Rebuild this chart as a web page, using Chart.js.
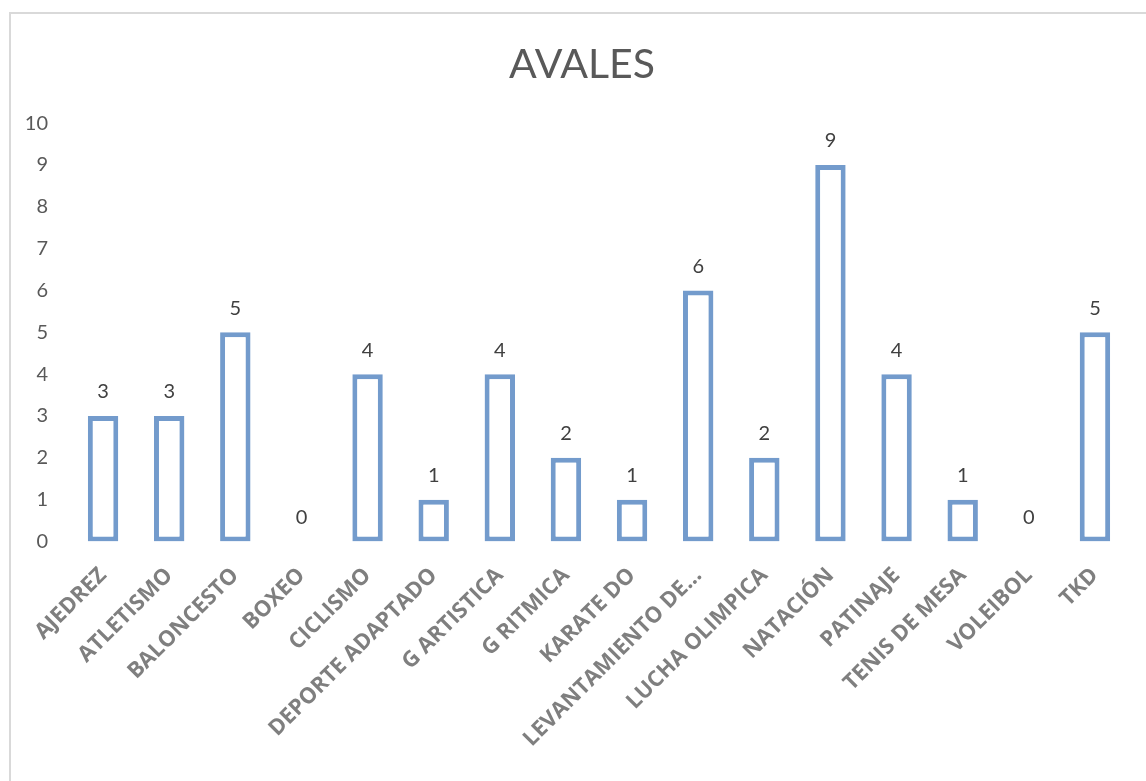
<!DOCTYPE html>
<html>
<head>
<meta charset="utf-8">
<script src="https://cdn.jsdelivr.net/npm/chart.js@4.4.1/dist/chart.umd.min.js"></script>
<style>
  html, body { margin: 0; padding: 0; background: #fff; overflow: hidden; }
  .frame { position: absolute; left: 9px; top: 12px; width: 1300px; height: 900px; border: 2px solid #d9d9d9; }
  .wrap { position: absolute; left: 0; top: 0; width: 1146px; height: 781px; }
</style>
</head>
<body>
<div class="frame"></div>
<div class="wrap"><canvas id="chart"></canvas></div>
<script>
const categories = ['AJEDREZ', 'ATLETISMO', 'BALONCESTO', 'BOXEO', 'CICLISMO', 'DEPORTE ADAPTADO',
  'G ARTISTICA', 'G RITMICA', 'KARATE DO', 'LEVANTAMIENTO DE...', 'LUCHA OLIMPICA',
  'NATACIÓN', 'PATINAJE', 'TENIS DE MESA', 'VOLEIBOL', 'TKD']
const avales = [3, 3, 5, 0, 4, 1, 4, 2, 1, 6, 2, 9, 4, 1, 0, 5]
const yTicks = [0, 1, 2, 3, 4, 5, 6, 7, 8, 9, 10]

const FONT = 'Lato, "Open Sans", sans-serif'

// value labels above each bar
const valueLabels = {
  id: 'valueLabels',
  afterLayout(chart) {
    // title sits a little right of the canvas centre, like the original
    chart.titleBlock.left += 26
  },
  afterDatasetsDraw(chart) {
    const ctx = chart.ctx
    const meta = chart.getDatasetMeta(0)
    ctx.save()
    ctx.font = '20px ' + FONT
    ctx.fillStyle = '#404040'
    ctx.textAlign = 'center'
    ctx.textBaseline = 'bottom'
    meta.data.forEach((bar, i) => {
      ctx.fillText(String(avales[i]), bar.x, bar.y - 14)
    })
    ctx.restore()
  }
}

new Chart(document.getElementById('chart').getContext('2d'), {
  type: 'bar',
  data: {
    labels: categories,
    datasets: [{
      label: 'AVALES',
      data: avales,
      backgroundColor: '#ffffff',
      borderColor: '#739bcc',
      borderWidth: c => c.raw === 0 ? 0 : 5,
      borderSkipped: false,
      categoryPercentage: 1,
      barPercentage: 0.46
    }]
  },
  options: {
    responsive: true,
    maintainAspectRatio: false,
    animation: false,
    layout: { padding: { top: 22, left: 10, right: 18, bottom: 0 } },
    plugins: {
      legend: { display: false },
      tooltip: { enabled: false },
      title: {
        display: true,
        text: 'AVALES',
        color: '#595959',
        font: { family: FONT, size: 41, weight: 'normal', lineHeight: 1.2 },
        padding: { top: 18, bottom: 34 }
      }
    },
    scales: {
      x: {
        grid: { display: false, drawTicks: false },
        border: { display: false },
        ticks: {
          color: '#7f7f7f',
          font: { family: '"Open Sans", Lato, sans-serif', size: 22, weight: 'bold' },
          minRotation: 45,
          maxRotation: 45,
          autoSkip: false,
          padding: 21
        },
        afterFit: s => { s.height = 239.5 }
      },
      y: {
        min: 0,
        max: 10,
        grid: { display: false, drawTicks: false },
        border: { display: false },
        afterBuildTicks: s => { s.ticks = yTicks.map(v => ({ value: v })) },
        ticks: {
          color: '#595959',
          font: { family: FONT, size: 20 },
          padding: 22
        },
        afterFit: s => { s.width = 60 }
      }
    }
  },
  plugins: [valueLabels]
})
</script>
</body>
</html>
